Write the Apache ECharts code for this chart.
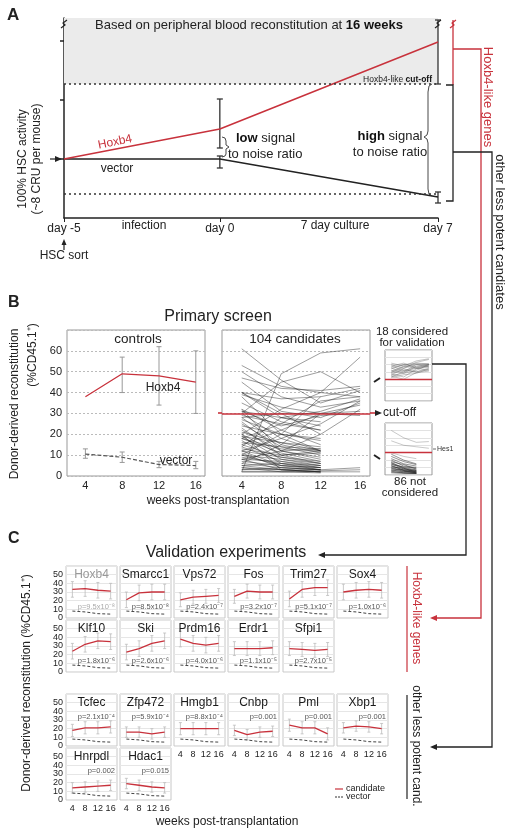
<!DOCTYPE html>
<html><head><meta charset="utf-8">
<script src="https://cdn.jsdelivr.net/npm/echarts@6/dist/echarts.min.js"></script>
<style>html,body{margin:0;padding:0;background:#fff}#c{width:511px;height:836px}</style>
</head><body><div id="c"></div>
<script>
// ================= DATA =================
// Panel A (schematic)
const aDays = [-5, 0, 7];
const aDayLabels = ['day -5', 'day 0', 'day 7'];
const aHoxb4 = [29.5, 44.5, 88];
const aVector = [29.5, 29.5, 10.5];
const aCutoff = 67;
const aLowLine = 12;
const aAxisTicks = [29.5, 59, 88.5];
const aErrHoxb4 = [[0, 35, 59.5], [7, 67, 99]];
const aErrVector = [[0, 25, 31], [7, 7.5, 13]];

// Panel B
const bWeeks = [4, 8, 12, 16];
const bYTicks = [0, 10, 20, 30, 40, 50, 60];
const bHoxb4 = [38, 49, 48, 45];
const bHoxb4Lo = [null, 40, 34, 30];
const bHoxb4Hi = [null, 57, 62, 60];
const bVector = [10.5, 9, 5.5, 5];
const bVectorLo = [8.5, 6.5, 4, 3.5];
const bVectorHi = [13, 11.5, 7, 7];
const bCutoff = 30;
const bCandidates = [
  [61, 46, 35, 41], [53, 43, 40, 38], [50, 38, 33, 36], [47, 42, 41, 43],
  [45, 31, 28, 35], [40, 37, 38, 42], [40, 28, 31, 37], [39, 33, 30, 31],
  [2, 49, 59, 61], [30, 45, 50, 40], [20, 32, 40, 57], [18, 25, 36, 38],
  [15, 22, 30, 34], [31, 24, 29, 30], [28, 30, 30, 29], [12, 18, 25, 36],
  [8, 12, 20, 32], [3, 3, 3, 4], [2, 2, 2.5, 3], [4, 3, 2, 2],
  [38, 20, 12, null], [35, 26, 22, null], [32, 22, 15, null], [31, 28, 26, null],
  [30, 18, 12, null], [29, 25, 22, null], [28, 15, 11, null], [27, 20, 17, null],
  [26, 12, 13, null], [25, 14, 10, null], [24, 20, 18, null], [23, 10, 12, null],
  [22, 12, 8, null], [21, 16, 14, null], [20, 10, 6, null], [19, 16, 12, null],
  [19, 8, 5, null], [18, 13, 12, null], [18, 11, 7, null], [17, 6, 4, null],
  [16, 14, 13, null], [15, 9, 6, null], [14, 7, 4, null], [13, 10, 11, null],
  [12, 5, 3, null], [12, 9, 7, null], [11, 4, 3, null], [10, 8, 6, null],
  [10, 5, 4, null], [9, 6, 3, null], [8, 7, 5, null], [8, 3, 2, null],
  [7, 5, 4, null], [6, 4, 3, null], [5, 3, 2, null], [5, 6, 5, null],
  [4, 2, 2, null], [3, 4, 3, null], [2, 2, 1.5, null], [6, 15, 30, null],
  [10, 20, 38, null], [14, 28, 24, null], [40, 30, 20, null], [32, 12, 9, null],
  [20, 3, 2, null]
];
const bValidated = [
  [52, 48, 55, 58], [50, 45, 53, 57], [48, 52, 45, 50], [45, 40, 50, 51],
  [44, 50, 47, 49], [42, 38, 48, 50], [40, 45, 50, 47], [38, 42, 46, 48],
  [36, 44, 40, 45], [35, 38, 42, 50], [33, 40, 45, 42], [32, 36, 38, 44],
  [48, 42, 40, 43], [46, 50, 52, 51], [41, 48, 45, 46], [37, 33, 44, 48],
  [34, 30, 39, 41], [39, 47, 51, 50]
];
const bNotConsidered = [
  [60, 50, 44, 45], [46, 40, 38, 36], [30, 25, 22, null],
  [28, 20, 15, null], [25, 18, 14, null], [22, 15, 12, null], [20, 12, 10, null],
  [18, 14, 8, null], [16, 10, 7, null], [15, 8, 6, null], [14, 11, 9, null],
  [12, 7, 5, null], [11, 9, 6, null], [10, 6, 4, null], [9, 5, 3, null],
  [8, 7, 5, null], [7, 4, 3, null], [6, 5, 4, null], [5, 3, 2, null],
  [4, 3, 2, null], [3, 2, 2, null], [13, 6, 3, null], [17, 9, 4, null]
];

// Panel C
const cWeeks = [4, 8, 12, 16];
const cYTicksEven = [0, 20, 40];
const cYTicksOdd = [10, 30, 50];
const cGenes = ['Hoxb4', 'Smarcc1', 'Vps72', 'Fos', 'Trim27', 'Sox4',
  'Klf10', 'Ski', 'Prdm16', 'Erdr1', 'Sfpi1',
  'Tcfec', 'Zfp472', 'Hmgb1', 'Cnbp', 'Pml', 'Xbp1',
  'Hnrpdl', 'Hdac1'];
const cValues = [
  [33, 34, 32, 31], [21, 29, 30, 30], [21, 24, 25, 26], [25, 31, 30, 30], [22, 33, 35, 35], [30, 32, 33, 32],
  [24, 32, 36, 35], [23, 27, 33, 36], [38, 33, 31, 33], [27, 27, 27, 28], [27, 26, 25, 26],
  [18, 21, 21, 22], [16, 16, 14, 16], [20, 20, 20, 20], [18, 13, 16, 17], [24, 21, 21, 14], [21, 23, 22, 20],
  [14, 15, 16, 17], [19, 17, 15, 14]
];
const cSd = [9, 9, 8, 8, 9, 9, 9, 9, 9, 8, 8, 7, 6, 7, 6, 7, 6, 6, 6];
const cPvals = ['p=9.5x10⁻⁸', 'p=8.5x10⁻⁸', 'p=2.4x10⁻⁷', 'p=3.2x10⁻⁷', 'p=5.1x10⁻⁷', 'p=1.0x10⁻⁶',
  'p=1.8x10⁻⁶', 'p=2.6x10⁻⁶', 'p=4.0x10⁻⁶', 'p=1.1x10⁻⁵', 'p=2.7x10⁻⁵',
  'p=2.1x10⁻⁴', 'p=5.9x10⁻⁴', 'p=8.8x10⁻⁴', 'p=0.001', 'p=0.001', 'p=0.001',
  'p=0.002', 'p=0.015'];
const cVector = [8, 7, 5, 4.5];

// ================= LAYOUT / STYLE =================
const FF = '"Liberation Sans", Arial, Helvetica, sans-serif';
const RED = '#c8323c';
const cColLeft = [66, 120, 174, 228, 283, 337];
const cRowTop = [566, 620, 694, 748];
const cW = 51, cH = 52;
const cPos = [[0,0],[0,1],[0,2],[0,3],[0,4],[0,5],[1,0],[1,1],[1,2],[1,3],[1,4],
  [2,0],[2,1],[2,2],[2,3],[2,4],[2,5],[3,0],[3,1]];

// ================= GRAPHIC HELPERS =================
function T(x, y, text, o) {
  o = o || {};
  return { type: 'text', x: x, y: y, rotation: o.rot || 0, z: 20, silent: true,
    style: { text: text, x: 0, y: 0, fill: o.color || '#222', fontSize: o.size || 12, fontFamily: FF,
      fontWeight: o.bold ? 'bold' : 'normal', align: o.align || 'center', verticalAlign: 'middle', rich: o.rich } };
}
function P(points, color, w, dash) {
  return { type: 'polyline', z: 20, silent: true, shape: { points: points },
    style: { stroke: color, lineWidth: w || 1, fill: null, lineDash: dash || null } };
}
function AH(x, y, color, dir) { // arrow head, tip at (x,y)
  const d = dir === 'right' ? -1 : 1;
  return { type: 'polygon', z: 21, silent: true, shape: { points: [[x, y], [x + 7 * d, y - 3], [x + 7 * d, y + 3]] },
    style: { fill: color } };
}
function zig(x, y, color) { return P([[x - 3, y + 4], [x + 1, y + 1], [x - 1, y - 1], [x + 3, y - 4]], color, 1.2); }

function pairs(xs, ys) { return xs.map((x, i) => [x, ys[i]]).filter(p => p[1] != null); }
function errRender(capW, color, lw) {
  return function (params, api) {
    const x = api.value(0), lo = api.value(1), hi = api.value(2);
    const p1 = api.coord([x, lo]), p2 = api.coord([x, hi]);
    const st = { stroke: color, lineWidth: lw };
    return { type: 'group', children: [
      { type: 'line', shape: { x1: p1[0], y1: p1[1], x2: p2[0], y2: p2[1] }, style: st },
      { type: 'line', shape: { x1: p1[0] - capW, y1: p1[1], x2: p1[0] + capW, y2: p1[1] }, style: st },
      { type: 'line', shape: { x1: p2[0] - capW, y1: p2[1], x2: p2[0] + capW, y2: p2[1] }, style: st }
    ]};
  };
}
function errSeries(idx, data, capW, color, lw) {
  return { type: 'custom', xAxisIndex: idx, yAxisIndex: idx, data: data, encode: { x: 0, y: [1, 2] },
    renderItem: errRender(capW, color, lw), silent: true, z: 3 };
}

const grids = [], xAxes = [], yAxes = [], series = [], graphics = [], extraY = [];

// ---------- Panel A ----------
grids.push({ left: 64, top: 18, width: 374, height: 200, show: false });
xAxes.push({ type: 'value', gridIndex: 0, min: -5, max: 7,
  axisLine: { onZero: false, lineStyle: { color: '#222', width: 1.5 } },
  axisTick: { customValues: aDays, length: 4, lineStyle: { color: '#222' } },
  axisLabel: { customValues: aDays, formatter: v => aDayLabels[aDays.indexOf(v)], fontSize: 12, color: '#222', fontFamily: FF, margin: 5 },
  splitLine: { show: false } });
yAxes.push({ type: 'value', gridIndex: 0, min: 0, max: 100,
  axisLine: { show: true, onZero: false, lineStyle: { color: '#222', width: 1.5 } },
  axisTick: { show: true, customValues: aAxisTicks, length: 4, lineStyle: { color: '#222', width: 1.5 } },
  axisLabel: { show: false }, splitLine: { show: false } });
series.push({ type: 'line', xAxisIndex: 0, yAxisIndex: 0, data: pairs(aDays, aVector), symbol: 'none',
  lineStyle: { color: '#222', width: 1.5 }, silent: true, z: 4,
  markArea: { silent: true, itemStyle: { color: '#ebebeb' }, data: [[{ xAxis: -5, yAxis: aCutoff }, { xAxis: 7, yAxis: 100 }]] },
  markLine: { silent: true, symbol: 'none', label: { show: false }, lineStyle: { color: '#333', width: 1.6, type: [2, 3] },
    data: [{ yAxis: aCutoff }, { yAxis: aLowLine }] } });
series.push({ type: 'line', xAxisIndex: 0, yAxisIndex: 0, data: pairs(aDays, aHoxb4), symbol: 'none',
  lineStyle: { color: RED, width: 1.5 }, silent: true, z: 4 });
series.push(errSeries(0, aErrHoxb4, 3, '#333', 1.3));
series.push(errSeries(0, aErrVector, 3, '#333', 1.3));

// ---------- Panel B ----------
const bGrid = [
  { left: 67, top: 330, width: 138, height: 146 },
  { left: 222, top: 330, width: 148, height: 146 },
  { left: 385, top: 350, width: 47, height: 51 },
  { left: 385, top: 423, width: 47, height: 52 }
];
bGrid.forEach((g, k) => {
  const idx = 1 + k, inset = k >= 2;
  grids.push(Object.assign({ show: true, borderColor: '#999', borderWidth: 1, backgroundColor: 'transparent' }, g));
  xAxes.push({ type: 'value', gridIndex: idx, min: 2, max: 17,
    axisLine: { show: false }, axisTick: { show: false },
    axisLabel: inset ? { show: false } : { customValues: bWeeks, fontSize: 11, color: '#222', fontFamily: FF, margin: 4 },
    splitLine: { show: false } });
  yAxes.push({ type: 'value', gridIndex: idx, min: 0, max: 70, interval: 10,
    axisLine: { show: false }, axisTick: { show: false },
    axisLabel: k === 0 ? { customValues: bYTicks, fontSize: 11, color: '#222', fontFamily: FF, margin: 5 } : { show: false },
    splitLine: { show: true, lineStyle: inset ? { color: '#e2e2e2', width: 1 } : { color: '#bbb', width: 1, type: [2, 2] } } });
});
series.push({ type: 'line', xAxisIndex: 1, yAxisIndex: 1, data: pairs(bWeeks, bHoxb4), symbol: 'none',
  lineStyle: { color: RED, width: 1.3 }, silent: true, z: 4 });
series.push({ type: 'line', xAxisIndex: 1, yAxisIndex: 1, data: pairs(bWeeks, bVector), symbol: 'none',
  lineStyle: { color: '#555', width: 1.2, type: [4, 2] }, silent: true, z: 4 });
series.push(errSeries(1, bWeeks.map((w, i) => [w, bHoxb4Lo[i], bHoxb4Hi[i]]).filter(d => d[1] != null), 2.5, '#999', 1));
series.push(errSeries(1, bWeeks.map((w, i) => [w, bVectorLo[i], bVectorHi[i]]), 2.5, '#999', 1));
bCandidates.forEach((arr, i) => {
  const s = { type: 'line', xAxisIndex: 2, yAxisIndex: 2, data: pairs(bWeeks, arr), symbol: 'none',
    lineStyle: { color: 'rgba(30,30,30,0.55)', width: 0.8 }, silent: true, z: 2 };
  if (i === 0) s.markLine = { silent: true, symbol: 'none', label: { show: false },
    lineStyle: { color: RED, width: 1.6, type: 'solid' }, data: [{ yAxis: bCutoff }] };
  series.push(s);
});
bValidated.forEach((arr, i) => {
  const s = { type: 'line', xAxisIndex: 3, yAxisIndex: 3, data: pairs(bWeeks, arr), symbol: 'none',
    lineStyle: { color: 'rgba(90,90,90,0.45)', width: 0.8 }, silent: true, z: 2 };
  if (i === 0) s.markLine = { silent: true, symbol: 'none', label: { show: false },
    lineStyle: { color: RED, width: 1.3, type: 'solid' }, data: [{ yAxis: bCutoff }] };
  series.push(s);
});
bNotConsidered.forEach((arr, i) => {
  const s = { type: 'line', xAxisIndex: 4, yAxisIndex: 4, data: pairs(bWeeks, arr), symbol: 'none',
    lineStyle: { color: i < 3 ? 'rgba(120,120,120,0.5)' : 'rgba(30,30,30,0.6)', width: 0.8 }, silent: true, z: 2 };
  if (i === 0) s.markLine = { silent: true, symbol: 'none', label: { show: false },
    lineStyle: { color: RED, width: 1.3, type: 'solid' }, data: [{ yAxis: bCutoff }] };
  series.push(s);
});

// ---------- Panel C ----------
const cLabelStyle = { fontSize: 9, color: '#222', fontFamily: FF, margin: 3, hideOverlap: false };
cGenes.forEach((g, k) => {
  const idx = 5 + k, r = cPos[k][0], c = cPos[k][1];
  const bottomOfCol = (c <= 1 && r === 3) || (c >= 2 && r === 2);
  grids.push({ left: cColLeft[c], top: cRowTop[r], width: cW, height: cH, show: true, borderColor: '#c8c8c8', borderWidth: 1 });
  xAxes.push({ type: 'value', gridIndex: idx, min: 2, max: 18,
    axisLine: { show: false }, axisTick: { show: false },
    axisLabel: bottomOfCol ? { customValues: cWeeks, fontSize: 9, color: '#222', fontFamily: FF, margin: 4 } : { show: false },
    splitLine: { show: false } });
  yAxes.push({ type: 'value', gridIndex: idx, min: 0, max: 60, interval: 10,
    axisLine: { show: false }, axisTick: { show: false },
    axisLabel: c === 0 ? Object.assign({ customValues: cYTicksEven }, cLabelStyle) : { show: false },
    splitLine: { show: true, lineStyle: { color: '#e6e6e6', width: 1 } } });
  if (c === 0) extraY.push({ type: 'value', gridIndex: idx, min: 0, max: 60, interval: 10, position: 'left',
    axisLine: { show: false }, axisTick: { show: false }, splitLine: { show: false },
    axisLabel: Object.assign({ customValues: cYTicksOdd }, cLabelStyle) });
  series.push(errSeries(idx, cWeeks.map((w, i) => [w, cValues[k][i] - cSd[k], cValues[k][i] + cSd[k]]), 1.5, '#bdbdbd', 0.8));
  series.push({ type: 'line', xAxisIndex: idx, yAxisIndex: idx, data: pairs(cWeeks, cVector), symbol: 'none',
    lineStyle: { color: '#444', width: 1, type: [3, 2] }, silent: true, z: 4 });
  series.push({ type: 'line', xAxisIndex: idx, yAxisIndex: idx, data: pairs(cWeeks, cValues[k]), symbol: 'none',
    lineStyle: { color: RED, width: 1.3 }, silent: true, z: 5 });
  const gx = cColLeft[c], gy = cRowTop[r];
  graphics.push(T(gx + cW / 2, gy + 9, g, { size: 12, color: k === 0 ? '#999' : '#1a1a1a' }));
  graphics.push(T(gx + cW - 2, gy + (r < 2 ? 41 : 23), cPvals[k], { size: 7.5, color: k === 0 ? '#aaa' : '#555', align: 'right' }));
});

// ---- Panel A annotations ----
graphics.push(T(7, 15, 'A', { size: 17, bold: true, align: 'left' }));
graphics.push(T(249, 25, '{n|Based on peripheral blood reconstitution at }{b|16 weeks}',
  { size: 13, rich: { n: { fontSize: 13, fontFamily: FF, fill: '#222' }, b: { fontSize: 13, fontFamily: FF, fontWeight: 'bold', fill: '#111' } } }));
graphics.push(T(432, 80, '{n|Hoxb4-like }{b|cut-off}',
  { size: 8.5, align: 'right', rich: { n: { fontSize: 8.5, fontFamily: FF, fill: '#222' }, b: { fontSize: 8.5, fontFamily: FF, fontWeight: 'bold', fill: '#111' } } }));
graphics.push(T(115, 142, 'Hoxb4', { size: 12, color: RED, rot: 0.2 }));
graphics.push(T(117, 169, 'vector', { size: 12 }));
graphics.push(T(236, 138, '{b|low} signal', { size: 13, align: 'left',
  rich: { b: { fontSize: 13, fontFamily: FF, fontWeight: 'bold', fill: '#111' } } }));
graphics.push(T(228, 154, 'to noise ratio', { size: 13, align: 'left' }));
graphics.push(T(390, 136, '{b|high} signal', { size: 13,
  rich: { b: { fontSize: 13, fontFamily: FF, fontWeight: 'bold', fill: '#111' } } }));
graphics.push(T(390, 152, 'to noise ratio', { size: 13 }));
graphics.push(T(144, 226, 'infection', { size: 12 }));
graphics.push(T(335, 226, '7 day culture', { size: 12 }));
graphics.push(P([[64, 250], [64, 243]], '#222', 1.2));
graphics.push({ type: 'polygon', z: 21, silent: true, shape: { points: [[64, 239], [61.5, 245], [66.5, 245]] }, style: { fill: '#222' } });
graphics.push(T(64, 256, 'HSC sort', { size: 12 }));
graphics.push(T(23, 159, '100% HSC activity', { size: 12, rot: Math.PI / 2 }));
graphics.push(T(37, 159, '(~8 CRU per mouse)', { size: 12, rot: Math.PI / 2 }));
graphics.push(P([[50, 159], [57, 159]], '#222', 1.2));
graphics.push(AH(62, 159, '#222', 'right'));
graphics.push(zig(64, 24, '#222'));
graphics.push(zig(438, 24, '#222'));
graphics.push(zig(453, 24, RED));
// braces (polyline approximations)
graphics.push(P([[222, 137], [225, 138], [226, 141], [226, 145], [229, 147], [226, 149], [226, 154], [225, 156], [222, 157]], '#333', 0.9));
graphics.push(P([[432, 84], [429, 86], [428, 92], [428, 131], [427, 135], [424, 137], [427, 139], [428, 143], [428, 189], [429, 194], [432, 196]], '#333', 0.9));
// right brackets / connectors
graphics.push(P([[453, 20], [453, 85]], RED, 1.3));
graphics.push(P([[453, 49], [481, 49], [481, 618], [437, 618]], RED, 1.3));
graphics.push(AH(430, 618, RED, 'left'));
graphics.push(P([[446, 85], [453, 85], [453, 201], [446, 201]], '#222', 1.3));
graphics.push(P([[453, 152], [492, 152], [492, 747], [437, 747]], '#222', 1.3));
graphics.push(AH(430, 747, '#222', 'left'));
graphics.push(T(488, 97, 'Hoxb4-like genes', { size: 13, color: RED, rot: -Math.PI / 2 }));
graphics.push(T(500, 232, 'other less potent candiates', { size: 13, rot: -Math.PI / 2 }));

// ---- Panel B annotations ----
graphics.push(T(8, 303, 'B', { size: 16, bold: true, align: 'left' }));
graphics.push(T(218, 317, 'Primary screen', { size: 16 }));
graphics.push(T(138, 339, 'controls', { size: 13.5 }));
graphics.push(T(295, 339, '104 candidates', { size: 13.5 }));
graphics.push(T(163, 388, 'Hoxb4', { size: 12 }));
graphics.push(T(176, 461, 'vector', { size: 12 }));
graphics.push(T(15, 404, 'Donor-derived reconstitution', { size: 12, rot: Math.PI / 2 }));
graphics.push(T(33, 355, '(%CD45.1⁺)', { size: 12, rot: Math.PI / 2 }));
graphics.push(T(218, 501, 'weeks post-transplantation', { size: 12 }));
graphics.push(T(412, 332, '18 considered', { size: 11.5 }));
graphics.push(T(412, 343, 'for validation', { size: 11.5 }));
graphics.push(T(410, 482, '86 not', { size: 11.5 }));
graphics.push(T(410, 493, 'considered', { size: 11.5 }));
graphics.push(P([[218, 413], [222, 413]], RED, 1.6));
graphics.push(P([[370, 413], [377, 413]], RED, 1.6));
graphics.push(AH(382, 413, '#222', 'right'));
graphics.push(T(383, 413, 'cut-off', { size: 12, align: 'left' }));
graphics.push(P([[433, 449], [436, 449]], '#444', 0.8));
graphics.push(T(437, 449, 'Hes1', { size: 7, align: 'left', color: '#333' }));
graphics.push(P([[374, 382], [380, 378]], '#222', 2));
graphics.push(P([[374, 455], [380, 459]], '#222', 2));
graphics.push(P([[432, 364], [466, 364], [466, 555], [325, 555]], '#222', 1.3));
graphics.push(AH(318, 555, '#222', 'left'));

// ---- Panel C annotations ----
graphics.push(T(8, 539, 'C', { size: 16, bold: true, align: 'left' }));
graphics.push(T(226, 553, 'Validation experiments', { size: 16 }));
graphics.push(T(27, 683, 'Donor-derived reconstitution (%CD45.1⁺)', { size: 12, rot: Math.PI / 2 }));
graphics.push(T(227, 822, 'weeks post-transplantation', { size: 12 }));
graphics.push(P([[407, 566], [407, 672]], RED, 1.2));
graphics.push(T(416, 618, 'Hoxb4-like genes', { size: 12, color: RED, rot: -Math.PI / 2 }));
graphics.push(P([[407, 695], [407, 799]], '#222', 1.2));
graphics.push(T(416, 746, 'other less potent cand.', { size: 12, rot: -Math.PI / 2 }));
graphics.push(P([[335, 789], [343, 789]], RED, 1.2));
graphics.push(T(346, 789, 'candidate', { size: 9, align: 'left' }));
graphics.push(P([[335, 797], [343, 797]], '#333', 1, [2, 1]));
graphics.push(T(346, 797, 'vector', { size: 9, align: 'left' }));

const chart = echarts.init(document.getElementById('c'), null, { renderer: 'canvas' });
chart.setOption({
  backgroundColor: '#fff',
  animation: false,
  textStyle: { fontFamily: FF },
  grid: grids, xAxis: xAxes, yAxis: yAxes.concat(extraY), series: series,
  graphic: { elements: graphics }
});
</script>
</body></html>
